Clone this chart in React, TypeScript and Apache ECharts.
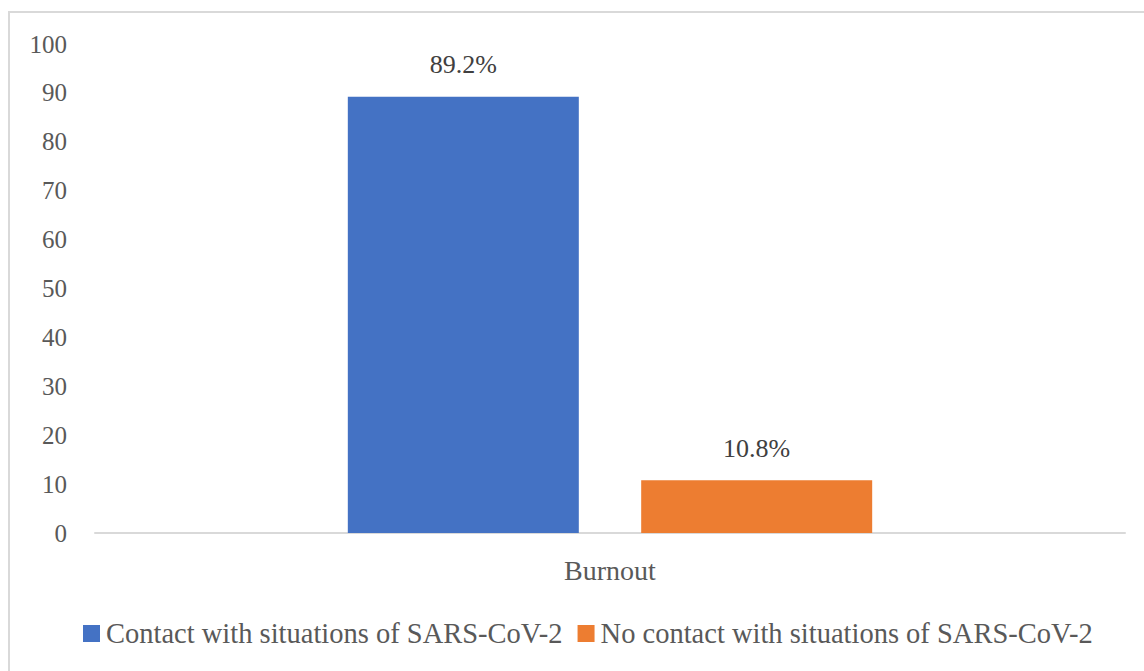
import React, { useEffect, useRef } from "react";
import * as echarts from "echarts";

const categories = ["Burnout"];
const seriesNames = [
  "Contact with situations of SARS-CoV-2",
  "No contact with situations of SARS-CoV-2",
];
const contactValues = [89.2];
const noContactValues = [10.8];
const colors = ["#4472C4", "#ED7D31"];
const FONT = "'Palatino Linotype', 'Book Antiqua', Palatino, 'Liberation Serif', serif";

export default function App() {
  const ref = useRef<HTMLDivElement>(null);
  useEffect(() => {
    if (!ref.current) return;
    const chart = echarts.init(ref.current, null, { renderer: "svg" });
    const label = {
      show: true,
      position: "top",
      distance: 19,
      color: "#404040",
      fontSize: 26,
      fontFamily: FONT,
      formatter: (p: any) => p.value.toFixed(1) + "%",
    };
    chart.setOption({
      animation: false,
      backgroundColor: "#ffffff",
      textStyle: { fontFamily: FONT },
      graphic: [
        {
          type: "rect",
          shape: { x: 9, y: 12, width: 1200, height: 800 },
          style: { fill: "none", stroke: "#d9d9d9", lineWidth: 2 },
          silent: true,
        },
      ],
      grid: { left: 95, right: 19, top: 44, bottom: 138 },
      legend: {
        left: 83,
        top: 619,
        padding: 0,
        itemWidth: 17,
        itemHeight: 17,
        itemGap: 15,
        icon: "rect",
        textStyle: { color: "#595959", fontSize: 28.5, fontFamily: FONT, padding: [0, 0, 0, 1] },
        data: seriesNames,
      },
      xAxis: {
        type: "category",
        data: categories,
        axisLine: { lineStyle: { color: "#d9d9d9", width: 2 } },
        axisTick: { show: false },
        axisLabel: { color: "#595959", fontSize: 28, fontFamily: FONT, margin: 23 },
      },
      yAxis: {
        type: "value",
        min: 0,
        max: 100,
        interval: 10,
        axisLine: { show: false },
        axisTick: { show: false },
        splitLine: { show: false },
        axisLabel: { color: "#595959", fontSize: 25, fontFamily: FONT, margin: 28 },
      },
      series: [
        {
          name: seriesNames[0],
          type: "bar",
          data: contactValues,
          barWidth: 231,
          barGap: "27%",
          itemStyle: { color: colors[0] },
          label,
        },
        {
          name: seriesNames[1],
          type: "bar",
          data: noContactValues,
          barWidth: 231,
          barGap: "27%",
          itemStyle: { color: colors[1] },
          label,
        },
      ],
    });
    return () => chart.dispose();
  }, []);
  return (
    <div
      ref={ref}
      style={{ position: "absolute", left: 0, top: 0, width: 1144, height: 671 }}
    />
  );
}
